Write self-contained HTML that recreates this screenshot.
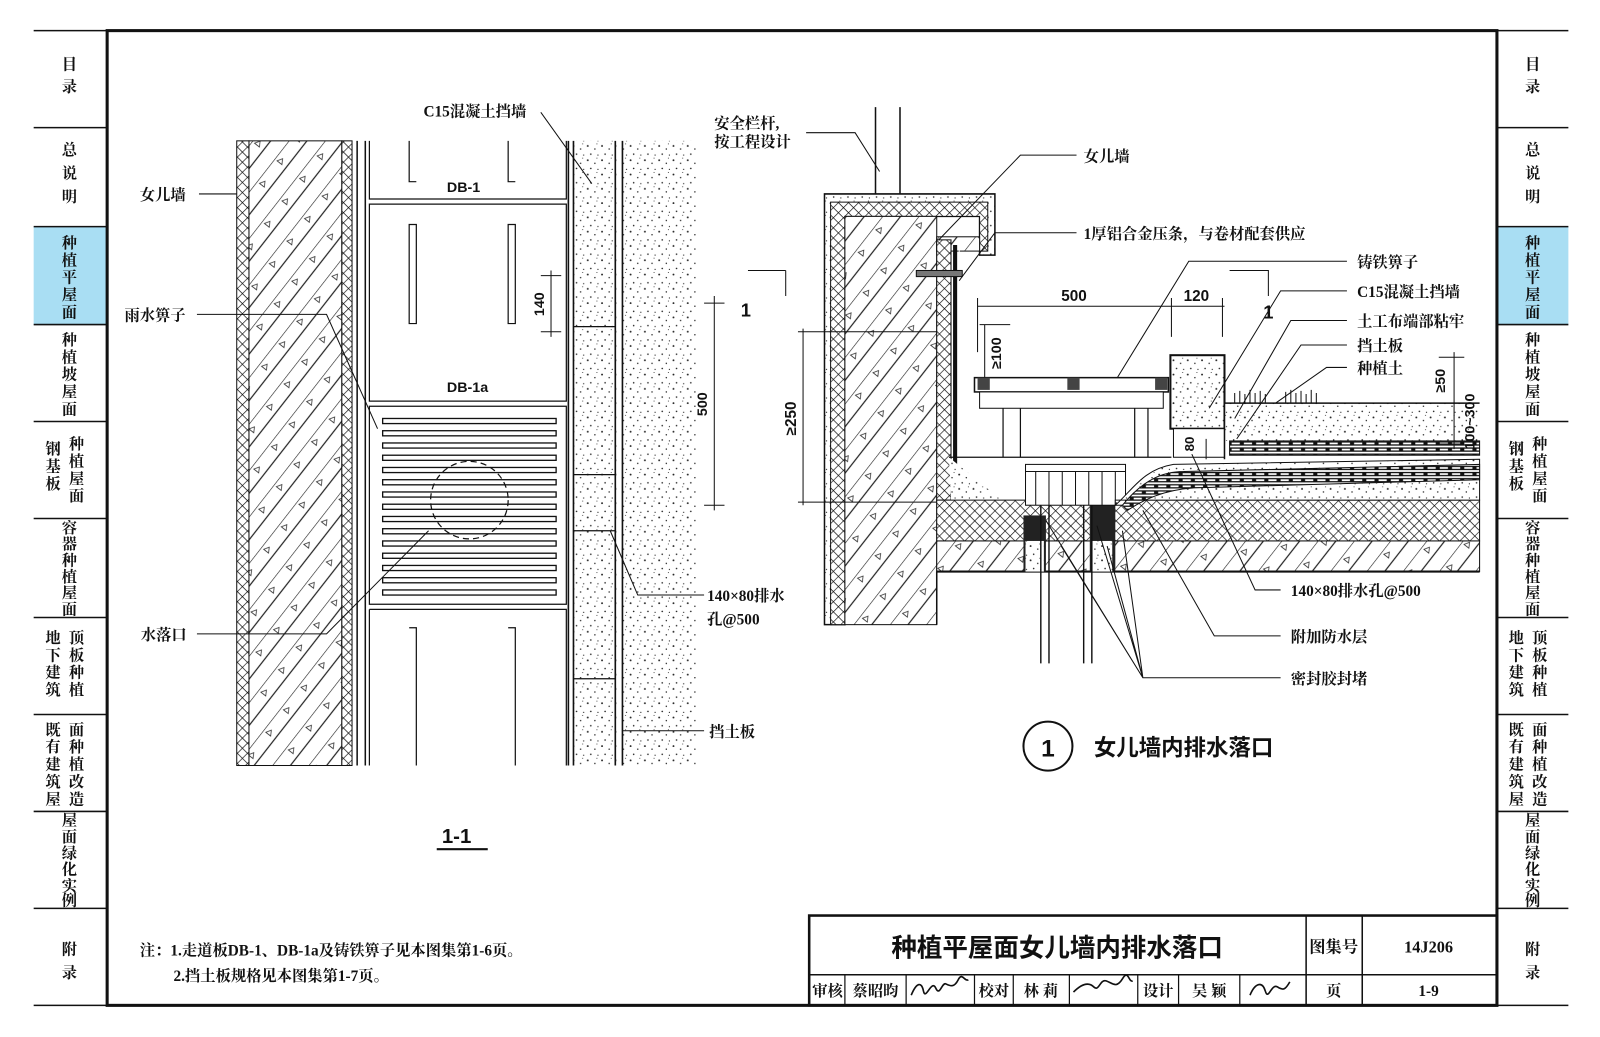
<!DOCTYPE html>
<html><head><meta charset="utf-8">
<style>
html,body{margin:0;padding:0;background:#fff;}
svg{display:block}
text{font-family:"Liberation Serif","Noto Serif CJK SC",serif;fill:#111;font-weight:bold}
.s{font-family:"Liberation Sans","Noto Sans CJK SC",sans-serif}
</style></head><body>
<svg width="1600" height="1037" viewBox="0 0 1568 1016" preserveAspectRatio="none" xmlns="http://www.w3.org/2000/svg">
<defs>
<pattern id="hat" width="28" height="28" patternUnits="userSpaceOnUse" patternTransform="rotate(38)">
<rect width="28" height="28" fill="#fff"/><line x1="0" y1="0" x2="0" y2="28" stroke="#222" stroke-width="1.2"/><line x1="14" y1="0" x2="14" y2="28" stroke="#222" stroke-width="1.2"/>
<path d="M6 8 l3 5 h-6z" fill="none" stroke="#333" stroke-width="0.8"/>
</pattern>
<pattern id="xh" width="7" height="7" patternUnits="userSpaceOnUse" patternTransform="rotate(45)">
<rect width="7" height="7" fill="#fff"/><path d="M0 0H7M0 0V7" stroke="#111" stroke-width="1.3"/>
</pattern>
<pattern id="dot" width="14" height="14" patternUnits="userSpaceOnUse">
<rect width="14" height="14" fill="#fff"/><circle cx="2" cy="3" r="0.9" fill="#222"/><circle cx="9" cy="6" r="0.7" fill="#222"/><circle cx="5" cy="11" r="0.8" fill="#222"/><circle cx="12" cy="12" r="0.6" fill="#222"/><circle cx="11" cy="1" r="0.5" fill="#222"/>
</pattern>
<pattern id="wav" width="12" height="6" patternUnits="userSpaceOnUse">
<rect width="12" height="6" fill="#fff"/><path d="M0 1H12M0 4H12" stroke="#111" stroke-width="1.2"/><rect x="3" y="1" width="4" height="3" fill="#111"/>
</pattern>
</defs>

<g stroke="#111" stroke-width="1.5">
<rect x="33" y="222" width="72" height="96" fill="#a9def3" stroke="none"/>
<rect x="1467" y="222" width="70" height="96" fill="#a9def3" stroke="none"/>
<path d="M33 30H105M33 125H105M33 222H105M33 318H105M33 413H105M33 508H105M33 605H105M33 700H105M33 795H105M33 890H105M33 985H105"/>
<path d="M1467 30H1537M1467 125H1537M1467 222H1537M1467 318H1537M1467 413H1537M1467 508H1537M1467 605H1537M1467 700H1537M1467 795H1537M1467 890H1537M1467 985H1537"/>
</g>
<g font-size="15" text-anchor="middle">
<g id="tabs">
<text x="68" y="68">目</text><text x="68" y="90">录</text>
<text x="68" y="152">总</text><text x="68" y="175">说</text><text x="68" y="198">明</text>
<text x="68" y="243">种</text><text x="68" y="260">植</text><text x="68" y="277">平</text><text x="68" y="294">屋</text><text x="68" y="311">面</text>
<text x="68" y="338">种</text><text x="68" y="355">植</text><text x="68" y="372">坡</text><text x="68" y="389">屋</text><text x="68" y="406">面</text>
<text x="52" y="445">钢</text><text x="52" y="462">基</text><text x="52" y="479">板</text>
<text x="75" y="440">种</text><text x="75" y="457">植</text><text x="75" y="474">屋</text><text x="75" y="491">面</text>
<text x="68" y="522">容</text><text x="68" y="538">器</text><text x="68" y="554">种</text><text x="68" y="570">植</text><text x="68" y="586">屋</text><text x="68" y="602">面</text>
<text x="52" y="630">地</text><text x="52" y="647">下</text><text x="52" y="664">建</text><text x="52" y="681">筑</text>
<text x="75" y="630">顶</text><text x="75" y="647">板</text><text x="75" y="664">种</text><text x="75" y="681">植</text>
<text x="52" y="720">既</text><text x="52" y="737">有</text><text x="52" y="754">建</text><text x="52" y="771">筑</text><text x="52" y="788">屋</text>
<text x="75" y="720">面</text><text x="75" y="737">种</text><text x="75" y="754">植</text><text x="75" y="771">改</text><text x="75" y="788">造</text>
<text x="68" y="809">屋</text><text x="68" y="825">面</text><text x="68" y="841">绿</text><text x="68" y="857">化</text><text x="68" y="873">实</text><text x="68" y="887">例</text>
<text x="68" y="935">附</text><text x="68" y="958">录</text>
</g>
<use href="#tabs" x="1434"/>
</g>

<rect x="105" y="30" width="1362" height="955" fill="none" stroke="#111" stroke-width="3"/>

<rect x="232" y="138" width="12" height="612" fill="url(#xh)" stroke="#111"/>
<rect x="244" y="138" width="91" height="612" fill="url(#hat)" stroke="#111"/>
<rect x="335" y="138" width="10" height="612" fill="url(#xh)" stroke="#111"/>
<path d="M350 138V750M358 138V750" stroke="#111" stroke-width="1.5"/>
<rect x="562" y="138" width="42" height="612" fill="url(#dot)"/>
<rect x="610" y="138" width="72" height="612" fill="url(#dot)"/>
<path d="M557 138V750M562 138V750M603 138V750M610 138V750" stroke="#111" stroke-width="1.6"/>
<g stroke="#111" stroke-width="1.2" fill="none">
<path d="M562 320H603M562 465H603M562 520H603M562 665H603"/>
<path d="M362 138V195H555V138M362 200H555V393H362Z M362 398H555V592H362Z M362 597H555V750M362 597V750"/>
<path d="M401 138V178h7M498 138V178h7M401 220h7v97h-7zM498 220h7v97h-7zM401 615h7v135M498 615h7v135M408 615v135M505 615v135" />
</g>
<g stroke="#111" stroke-width="1.3" fill="#fff">
<rect x="375" y="410" width="170" height="5"/><rect x="375" y="422" width="170" height="5"/><rect x="375" y="434" width="170" height="5"/><rect x="375" y="446" width="170" height="5"/><rect x="375" y="458" width="170" height="5"/><rect x="375" y="470" width="170" height="5"/><rect x="375" y="482" width="170" height="5"/><rect x="375" y="494" width="170" height="5"/><rect x="375" y="506" width="170" height="5"/><rect x="375" y="518" width="170" height="5"/><rect x="375" y="530" width="170" height="5"/><rect x="375" y="542" width="170" height="5"/><rect x="375" y="554" width="170" height="5"/><rect x="375" y="566" width="170" height="5"/><rect x="375" y="578" width="170" height="5"/>
</g>
<circle cx="460" cy="490" r="38" fill="none" stroke="#111" stroke-width="1.2" stroke-dasharray="6 4"/>
<g stroke="#111" stroke-width="1" fill="none">
<path d="M530 270H550M530 325H550M540 265V330"/>
<path d="M690 297H710M690 495H710M700 290V500"/>
<path d="M195 190H232M193 308H320L370 420M193 621H320L420 520"/>
<path d="M530 110L580 180M598 520L625 583H690M610 716H690"/>
</g>
<text x="415" y="114" font-size="15">C15混凝土挡墙</text>
<text x="438" y="188" font-size="14" class="s">DB-1</text>
<text x="438" y="384" font-size="14" class="s">DB-1a</text>
<text x="137" y="196" font-size="15">女儿墙</text>
<text x="122" y="314" font-size="15">雨水箅子</text>
<text x="138" y="627" font-size="15">水落口</text>
<text x="693" y="589" font-size="15">140×80排水</text>
<text x="693" y="612" font-size="15">孔@500</text>
<text x="695" y="722" font-size="15">挡土板</text>
<text x="533" y="298" font-size="14" class="s" transform="rotate(-90 533 298)" text-anchor="middle">140</text>
<text x="693" y="396" font-size="14" class="s" transform="rotate(-90 693 396)" text-anchor="middle">500</text>
<text x="433" y="826" font-size="20" class="s">1-1</text>
<path d="M428 832H478" stroke="#111" stroke-width="2"/>

<g stroke="#111" stroke-width="1.5" fill="none"><path d="M858 105V190M882 105V190"/></g>
<path d="M808 190H975V250H960V212H828V612H808Z" fill="url(#dot)" stroke="#111" stroke-width="1.5"/>
<path d="M814 198H968V246H960V212H828V612H814Z" fill="url(#xh)" stroke="#111"/>
<rect x="828" y="212" width="90" height="400" fill="url(#hat)" stroke="#111"/>
<rect x="918" y="232" width="42" height="14" fill="url(#hat)" stroke="#111"/>
<rect x="918" y="235" width="14" height="255" fill="url(#xh)" stroke="#111"/>
<path d="M936 240V455L955 490L995 510" fill="none" stroke="#111" stroke-width="4"/>
<path d="M940 240V452L958 486L998 506" fill="none" stroke="#fff" stroke-width="1"/>
<rect x="898" y="265" width="45" height="6" fill="#777" stroke="#111"/>
<path d="M930 448L1000 505L1005 490H932Z" fill="url(#dot)"/>
<rect x="918" y="490" width="532" height="40" fill="url(#xh)" stroke="#111"/>
<rect x="918" y="530" width="532" height="30" fill="url(#hat)" stroke="#111"/>
<path d="M918 560H1450" stroke="#111" stroke-width="2"/>
<path d="M918 560V612" stroke="#111" stroke-width="1.5"/>
<rect x="1003" y="505" width="22" height="55" fill="#222"/>
<rect x="1068" y="490" width="25" height="70" fill="#222"/>
<rect x="1005" y="530" width="18" height="30" fill="url(#dot)"/>
<rect x="1070" y="530" width="20" height="30" fill="url(#dot)"/>
<path d="M1020 480V650M1028 480V650M1062 480V650M1070 480V650" stroke="#111" stroke-width="1.4"/>
<rect x="1005" y="455" width="98" height="40" fill="#fff" stroke="#111"/>
<path d="M1005 462H1103M1015 462V495M1028 462V495M1041 462V495M1054 462V495M1067 462V495M1080 462V495M1093 462V495" stroke="#111"/>
<path d="M1093 495C1110 480 1120 460 1150 455L1450 450V490H1093Z" fill="url(#dot)" stroke="#111"/>
<path d="M1100 495C1120 470 1140 462 1160 462L1450 455V470L1170 478C1140 480 1120 490 1105 500Z" fill="url(#wav)" stroke="#111"/>
<rect x="955" y="370" width="190" height="14" fill="#fff" stroke="#111" stroke-width="1.5"/>
<rect x="958" y="370" width="12" height="12" fill="#444"/><rect x="1046" y="370" width="12" height="12" fill="#444"/><rect x="1132" y="370" width="12" height="12" fill="#444"/>
<rect x="960" y="384" width="180" height="16" fill="#fff" stroke="#111"/>
<path d="M983 400V448M1000 400V448M1112 400V448M1125 400V448M930 448H1148" stroke="#111" stroke-width="1.2" fill="none"/>
<rect x="1147" y="348" width="53" height="72" fill="url(#dot)" stroke="#111" stroke-width="2"/>
<rect x="1150" y="420" width="50" height="28" fill="#fff" stroke="#111"/>
<rect x="1200" y="395" width="250" height="37" fill="url(#dot)"/>
<path d="M1200 395H1450M1200 365V450" stroke="#111" stroke-width="1.5"/>
<path d="M1210 395V385M1215 395V383M1220 395V386M1225 395V382M1230 395V385M1235 395V383M1240 395V386M1260 395V384M1265 395V382M1270 395V385M1275 395V383M1280 395V386M1285 395V382M1290 395V385" stroke="#111"/>
<rect x="1205" y="432" width="245" height="14" fill="url(#wav)" stroke="#111"/>
<g stroke="#111" stroke-width="1" fill="none">
<path d="M958 300H1200M958 292V345M1148 292V330M1198 292V330"/>
<path d="M965 318V370M960 318H990"/>
<path d="M782 325H918M782 492H918M787 322V495"/>
<path d="M1410 350H1435M1410 395H1435M1410 435H1435M1425 345V440"/>
<path d="M733 265H770M770 265V290M1205 265H1243V290"/>
<path d="M1182 450V430"/>
</g>
<text x="1040" y="295" font-size="15" class="s">500</text>
<text x="1160" y="295" font-size="15" class="s">120</text>
<text x="981" y="346" font-size="14" class="s" transform="rotate(-90 981 346)" text-anchor="middle">≥100</text>
<text x="780" y="410" font-size="15" class="s" transform="rotate(-90 780 410)" text-anchor="middle">≥250</text>
<text x="1416" y="373" font-size="14" class="s" transform="rotate(-90 1416 373)" text-anchor="middle">≥50</text>
<text x="1445" y="413" font-size="14" class="s" transform="rotate(-90 1445 413)" text-anchor="middle">100~300</text>
<text x="1170" y="435" font-size="13" class="s" transform="rotate(-90 1170 435)" text-anchor="middle">80</text>
<text x="726" y="310" font-size="18" class="s">1</text>
<text x="1238" y="312" font-size="18" class="s">1</text>
<g stroke="#111" stroke-width="1" fill="none">
<path d="M790 130H838L862 168"/>
<path d="M1055 152H1000L920 235"/>
<path d="M1055 228H975L940 275"/>
<path d="M1320 256H1165L1095 370"/>
<path d="M1320 285H1255L1185 400"/>
<path d="M1320 314H1265L1210 410"/>
<path d="M1320 338H1275L1212 430"/>
<path d="M1320 360H1300L1250 395"/>
<path d="M1255 578H1230L1168 445"/>
<path d="M1255 623H1190L1120 500"/>
<path d="M1255 664H1120L1025 510M1120 664L1040 535M1120 664L1075 515M1120 664L1085 535M1120 664L1100 520"/>
</g>
<text x="700" y="126" font-size="15">安全栏杆,</text>
<text x="700" y="144" font-size="15">按工程设计</text>
<text x="1062" y="158" font-size="15">女儿墙</text>
<text x="1062" y="234" font-size="15">1厚铝合金压条，与卷材配套供应</text>
<text x="1330" y="262" font-size="15">铸铁箅子</text>
<text x="1330" y="291" font-size="15">C15混凝土挡墙</text>
<text x="1330" y="320" font-size="15">土工布端部粘牢</text>
<text x="1330" y="344" font-size="15">挡土板</text>
<text x="1330" y="366" font-size="15">种植土</text>
<text x="1265" y="584" font-size="15">140×80排水孔@500</text>
<text x="1265" y="629" font-size="15">附加防水层</text>
<text x="1265" y="670" font-size="15">密封胶封堵</text>
<circle cx="1027" cy="731" r="24" fill="none" stroke="#111" stroke-width="2"/>
<text x="1027" y="741" font-size="24" class="s" text-anchor="middle" font-weight="normal">1</text>
<text x="1072" y="740" font-size="22" class="s">女儿墙内排水落口</text>

<text x="137" y="936" font-size="15">注：1.走道板DB-1、DB-1a及铸铁箅子见本图集第1-6页。</text>
<text x="170" y="961" font-size="15">2.挡土板规格见本图集第1-7页。</text>

<g stroke="#111" fill="none">
<rect x="793" y="897" width="674" height="88" stroke-width="2.5"/>
<path d="M793 955H1467M1280 897V985M1335 897V985" stroke-width="1.5"/>
<path d="M828 955V985M888 955V985M955 955V985M993 955V985M1048 955V985M1115 955V985M1155 955V985M1215 955V985" stroke-width="1.2"/>
</g>
<text x="1036" y="937" font-size="25" class="s" text-anchor="middle">种植平屋面女儿墙内排水落口</text>
<text x="1307" y="933" font-size="16" text-anchor="middle">图集号</text>
<text x="1400" y="933" font-size="16" text-anchor="middle">14J206</text>
<g font-size="15" text-anchor="middle">
<text x="811" y="976">审核</text><text x="858" y="976">蔡昭昀</text>
<text x="974" y="976">校对</text><text x="1020" y="976">林 莉</text>
<text x="1135" y="976">设计</text><text x="1185" y="976">吴 颖</text>
<text x="1307" y="976">页</text><text x="1400" y="976">1-9</text>
</g>
<g stroke="#111" stroke-width="1.6" fill="none">
<path d="M893 975c5-12 10-14 12-4s8-12 12-3 6-6 10-4 8 4 12-4 6 2 10 0"/>
<path d="M1052 972c8-8 15-10 20-5s6-8 12-6 10 8 16-2 6 4 10 2"/>
<path d="M1225 975c5-12 12-14 15-4s6-8 12-4 8 2 12-5"/>
</g>
</svg>
</body></html>
